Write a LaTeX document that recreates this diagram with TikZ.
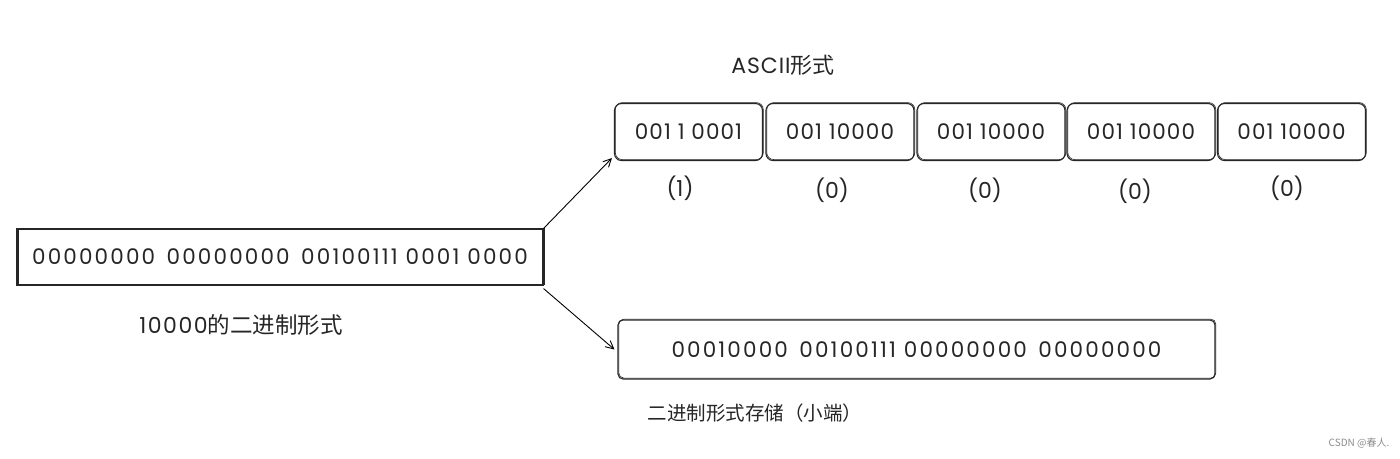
\documentclass[tikz,border=0pt]{standalone}
\usepackage{fontspec}
\setmainfont{Poppins}
\newfontfamily\cjk{Noto Sans CJK SC}
\usetikzlibrary{arrows.meta}
\tikzset{
  sketch/.style={draw=black!85, line width=1.1pt,
    postaction={draw=black!85, line width=0.6pt, transform canvas={xshift=0.8pt, yshift=0.9pt}}},
  bits/.style={font=\fontsize{21.5}{24}\selectfont\addfontfeatures{LetterSpace=5}, text=black!85},
  widebits/.style={font=\fontsize{21.5}{24}\selectfont\addfontfeatures{LetterSpace=10}, text=black!85},
  cell/.style={sketch, rounded corners=7pt, minimum width=148pt, minimum height=57pt, inner sep=0pt},
  lbl/.style={font=\fontsize{22}{25}\selectfont, text=black!85},
  conn/.style={line width=0.9pt, -{Straight Barb[length=8pt, width=8pt]}},
}
\begin{document}
\begin{tikzpicture}[x=1pt, y=-1pt]
\useasboundingbox (0,0) rectangle (1400,458);
\fill[white] (0,0) rectangle (1400,458);
% left box
\node[sketch, minimum width=526pt, minimum height=56pt, inner sep=0pt, widebits] (src) at (280,257) {00000000\, 00000000\, 00100111 0001 0000};
\node[lbl, anchor=center] (srclbl) at (241,325) {{\addfontfeatures{LetterSpace=7}10000}{\cjk\fontsize{22.5}{25}\selectfont 的二进制形式}};
% ASCII cells
\node[lbl] (asciilbl) at (783,65) {{\addfontfeatures{LetterSpace=4}ASCII}{\cjk 形式}};
\node[cell, bits] (a1) at (688.5,132) {001 1 0001};
\node[cell, bits] (a2) at (840,132) {001 10000};
\node[cell, bits] (a3) at (991,132) {001 10000};
\node[cell, bits] (a4) at (1141,132) {001 10000};
\node[cell, bits] (a5) at (1291.5,132) {001 10000};
\node[lbl] (d1) at (680,188) {(1)};
\node[lbl] (d2) at (832,190) {(0)};
\node[lbl] (d3) at (985,190) {(0)};
\node[lbl] (d4) at (1135,191) {(0)};
\node[lbl] (d5) at (1287,188) {(0)};
% bottom box
\node[sketch, rounded corners=5pt, minimum width=597pt, minimum height=59pt, inner sep=0pt, widebits] (dst) at (916.5,349.5) {00010000\, 00100111 00000000\, 00000000};
\node[font=\cjk\fontsize{19.5}{22}\selectfont, text=black!85] (dstlbl) at (755,413) {二进制形式存储（小端）};
% arrows
\draw[conn] (src.north east) -- ([shift={(-2,-3)}]a1.south west);
\draw[conn] ([yshift=-3]src.south east) -- ([xshift=-3]dst.west);
% watermark
\node[font=\cjk\fontsize{10}{12}\selectfont, text=black!45] (wm) at (1359,443) {CSDN @春人.};
\end{tikzpicture}
\end{document}
